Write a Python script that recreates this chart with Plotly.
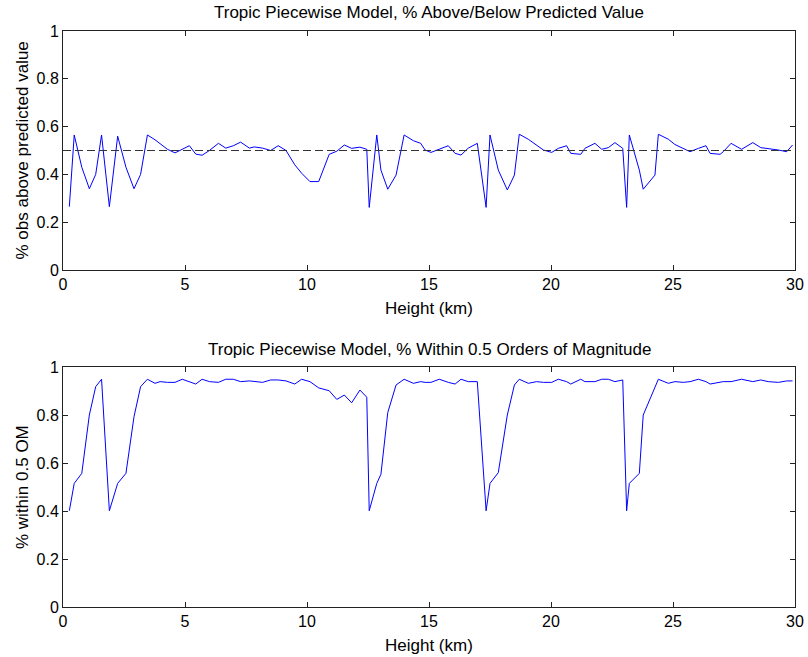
import plotly.graph_objects as go

height_km = [0.26, 0.46, 0.77, 1.08, 1.34, 1.58, 1.90, 2.24, 2.58, 2.91, 3.18, 3.46,
             3.77, 3.98, 4.28, 4.59, 4.89, 5.18, 5.44, 5.70, 6.00, 6.37, 6.67, 6.98,
             7.28, 7.64, 7.84, 8.18, 8.51, 8.82, 9.14, 9.50, 9.78, 10.12, 10.48, 10.91,
             11.22, 11.53, 11.83, 12.17, 12.45, 12.55, 12.86, 13.03, 13.31, 13.65, 13.98,
             14.36, 14.66, 14.84, 15.08, 15.42, 15.79, 16.07, 16.31, 16.61, 16.98, 17.34,
             17.50, 17.84, 18.21, 18.50, 18.70, 19.07, 19.41, 19.69, 20.03, 20.30, 20.64,
             20.81, 21.22, 21.39, 21.80, 22.08, 22.35, 22.62, 22.94, 23.10, 23.21, 23.62,
             23.78, 24.26, 24.40, 24.81, 25.08, 25.42, 25.70, 26.04, 26.35, 26.52, 26.93,
             27.06, 27.38, 27.81, 28.27, 28.60, 28.90, 29.32, 29.66, 29.90]

pct_above = [0.265, 0.565, 0.43, 0.34, 0.40, 0.565, 0.265, 0.56, 0.43, 0.34, 0.40, 0.565,
             0.545, 0.53, 0.505, 0.49, 0.505, 0.52, 0.485, 0.48, 0.50, 0.53, 0.51, 0.52,
             0.535, 0.51, 0.515, 0.51, 0.50, 0.52, 0.50, 0.44, 0.405, 0.37, 0.37, 0.484,
             0.497, 0.523, 0.509, 0.514, 0.505, 0.262, 0.565, 0.418, 0.338, 0.397, 0.565,
             0.541, 0.53, 0.502, 0.492, 0.505, 0.52, 0.488, 0.481, 0.51, 0.53, 0.262,
             0.565, 0.418, 0.335, 0.397, 0.568, 0.547, 0.523, 0.502, 0.492, 0.509, 0.52,
             0.488, 0.484, 0.509, 0.53, 0.505, 0.512, 0.533, 0.509, 0.262, 0.565, 0.418,
             0.338, 0.397, 0.568, 0.547, 0.525, 0.509, 0.495, 0.509, 0.52, 0.488, 0.484,
             0.495, 0.53, 0.505, 0.533, 0.512, 0.509, 0.502, 0.495, 0.523]

pct_within = [0.401, 0.515, 0.557, 0.80, 0.918, 0.949, 0.401, 0.515, 0.557, 0.793, 0.918, 0.949,
              0.932, 0.939, 0.936, 0.936, 0.949, 0.939, 0.929, 0.949, 0.939, 0.936, 0.949, 0.949,
              0.939, 0.942, 0.939, 0.936, 0.946, 0.946, 0.942, 0.929, 0.949, 0.939, 0.913, 0.901,
              0.865, 0.883, 0.851, 0.904, 0.874, 0.401, 0.515, 0.553, 0.81, 0.925, 0.949,
              0.932, 0.939, 0.936, 0.936, 0.949, 0.936, 0.929, 0.949, 0.939, 0.939, 0.401,
              0.515, 0.56, 0.80, 0.925, 0.949, 0.932, 0.939, 0.936, 0.936, 0.949, 0.939,
              0.929, 0.949, 0.939, 0.939, 0.949, 0.949, 0.939, 0.946, 0.401, 0.515, 0.557,
              0.80, 0.918, 0.949, 0.932, 0.939, 0.936, 0.939, 0.949, 0.939, 0.929, 0.939,
              0.939, 0.939, 0.949, 0.939, 0.946, 0.939, 0.936, 0.942, 0.942]

ref_x = [0, 30]
ref_y = [0.5, 0.5]

x_ticks = [0, 5, 10, 15, 20, 25, 30]
y_ticks = [0, 0.2, 0.4, 0.6, 0.8, 1]
y_tick_text = ["0", "0.2", "0.4", "0.6", "0.8", "1"]

W, H = 808, 657
FONT = "Liberation Sans, Arial, sans-serif"

fig = go.Figure()
fig.add_trace(go.Scatter(x=height_km, y=pct_above, mode="lines",
                         line=dict(color="#0000FF", width=1), xaxis="x", yaxis="y"))
fig.add_trace(go.Scatter(x=ref_x, y=ref_y, mode="lines",
                         line=dict(color="#333333", width=1, dash="8px,4px"), xaxis="x", yaxis="y"))
fig.add_trace(go.Scatter(x=height_km, y=pct_within, mode="lines",
                         line=dict(color="#0000FF", width=1), xaxis="x2", yaxis="y2"))

left, right = 63 / W, 795 / W
top1, bot1 = 1 - 31 / H, 1 - 270 / H
top2, bot2 = 1 - 367 / H, 1 - 607 / H

axis_common = dict(showgrid=False, zeroline=False, showline=True, linecolor="#222222",
                   linewidth=1, mirror="ticks", ticks="inside", ticklen=5,
                   tickcolor="#222222", automargin=False,
                   tickfont=dict(family=FONT, size=16, color="black"))

fig.update_layout(
    width=W, height=H, margin=dict(l=0, r=0, t=0, b=0, pad=0, autoexpand=False),
    paper_bgcolor="white", plot_bgcolor="white", showlegend=False,
    xaxis=dict(domain=[left, right], range=[0, 30], tickvals=x_ticks, anchor="y", **axis_common),
    yaxis=dict(domain=[bot1, top1], range=[0, 1], tickvals=y_ticks, ticktext=y_tick_text,
               anchor="x", **axis_common),
    xaxis2=dict(domain=[left, right], range=[0, 30], tickvals=x_ticks, anchor="y2", **axis_common),
    yaxis2=dict(domain=[bot2, top2], range=[0, 1], tickvals=y_ticks, ticktext=y_tick_text,
                anchor="x2", **axis_common),
)

ann_font = dict(family=FONT, size=17, color="black")
mid_x = (left + right) / 2
annotations = [
    dict(text="Tropic Piecewise Model, % Above/Below Predicted Value", x=mid_x, y=1 - 12 / H),
    dict(text="Height (km)", x=mid_x, y=1 - 308 / H),
    dict(text="Tropic Piecewise Model, % Within 0.5 Orders of Magnitude", x=mid_x, y=1 - 349 / H),
    dict(text="Height (km)", x=mid_x, y=1 - 645 / H),
    dict(text="% obs above predicted value", x=22 / W, y=(top1 + bot1) / 2, textangle=-90),
    dict(text="% within 0.5 OM", x=22 / W, y=(top2 + bot2) / 2, textangle=-90),
]
for a in annotations:
    fig.add_annotation(xref="paper", yref="paper", showarrow=False, font=ann_font,
                       xanchor="center", yanchor="middle", **a)

fig.write_html("out.html")
